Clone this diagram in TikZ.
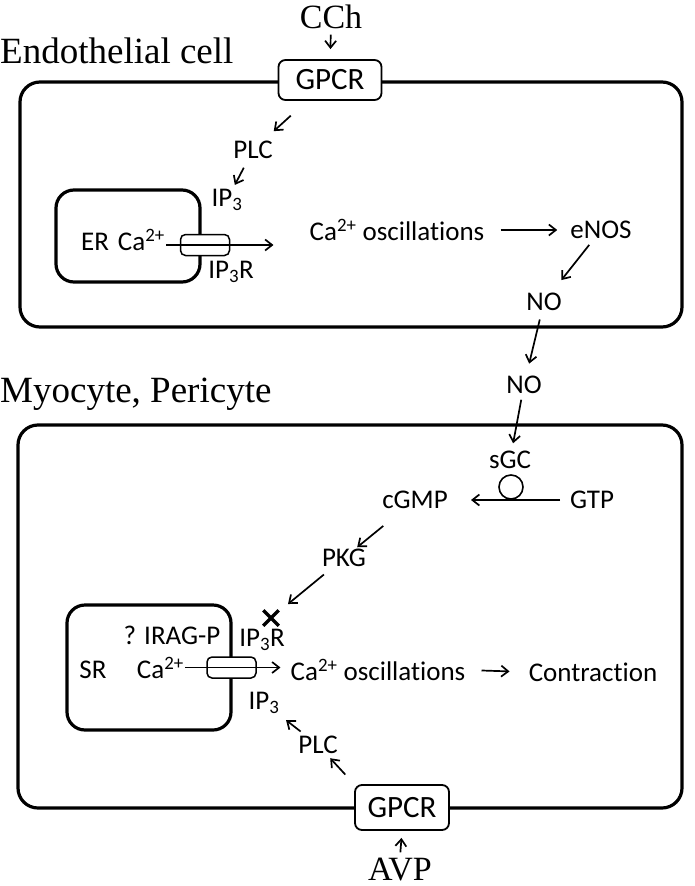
\documentclass[tikz,border=0pt]{standalone}
\usepackage{fontspec}
\setmainfont{Liberation Serif}
\setsansfont[Ligatures=NoCommon]{Carlito}
\usetikzlibrary{arrows.meta, positioning, calc, shapes.misc}

\tikzset{
  wall/.style={draw, line width=3.2pt, rounded corners=20pt, inner sep=0pt},
  organelle/.style={draw, line width=3.2pt, rounded corners=18pt, inner sep=0pt},
  receptor/.style={draw, fill=white, line width=1.8pt, rounded corners=7pt, font=\fontsize{31}{34}\selectfont\sffamily, inner sep=0pt},
  channel/.style={draw, fill=white, line width=1.5pt, rounded corners=5pt, minimum width=49pt, minimum height=21pt, inner sep=0pt},
  lbl/.style={font=\fontsize{27}{30}\selectfont\sffamily, inner sep=1pt},
  celltitle/.style={font=\fontsize{37}{42}\selectfont, inner sep=0pt},
  ligand/.style={font=\fontsize{34}{38}\selectfont, inner sep=0pt},
  arr/.style={-{Straight Barb[length=7pt,width=11pt]}, line width=1.7pt},
}

\begin{document}
\begin{tikzpicture}[x=1pt, y=-1pt]
  \useasboundingbox (0,0) rectangle (694,886);

  % endothelial cell
  \node[wall, minimum width=662pt, minimum height=245pt] (endo) at (351,204.5) {};
  \node[celltitle, anchor=base west] (endotitle) at (0,63) {Endothelial cell};
  \node[ligand, anchor=base] (cch) at (331,28) {CCh};
  \node[receptor, minimum width=103pt, minimum height=40pt] (gpcr1) at (330,80) {GPCR};
  \node[lbl] (plc1) at (253,150) {PLC};
  \node[lbl] (ip3a) at (227,200) {IP\textsubscript{3}};
  \node[organelle, minimum width=144pt, minimum height=92pt] (er) at (128,236) {};
  \node[lbl, anchor=east] (erca) at (166,240) {ER\,\,Ca\textsuperscript{2+}};
  \node[channel] (chan1) at (205,245) {};
  \node[lbl] (ip3r1) at (231,272) {IP\textsubscript{3}R};
  \node[lbl] (osc1) at (397,230) {Ca\textsuperscript{2+} oscillations};
  \node[lbl] (enos) at (601,230) {eNOS};
  \node[lbl] (no1) at (544,302) {NO};

  \draw[arr, shorten <=6pt, shorten >=10pt] (cch) -- (gpcr1);
  \draw[arr, shorten <=53pt, shorten >=28pt] (gpcr1.center) -- (plc1.center);
  \draw[arr, shorten <=20pt, shorten >=17pt] (plc1.center) -- (ip3a.center);
  \draw[arr, shorten >=35pt] (erca.east |- chan1.center) -- (osc1.west |- chan1.center);
  \draw[arr, shorten <=15pt, shorten >=12pt] (osc1.east) -- (enos.west);
  \draw[arr, shorten <=19pt, shorten >=28pt] (enos.center) -- (no1.center);

  % myocyte / pericyte
  \node[lbl] (no2) at (524,385) {NO};
  \node[celltitle, anchor=base west] (myotitle) at (0,402) {Myocyte, Pericyte};
  \node[wall, minimum width=664pt, minimum height=383pt] (myo) at (350,616.5) {};
  \node[lbl] (sgc) at (510,460) {sGC};
  \node[circle, draw, line width=1.6pt, minimum size=24pt, inner sep=0pt] (sgcring) at (511,487) {};
  \node[lbl] (gtp) at (592,500) {GTP};
  \node[lbl] (cgmp) at (415,500) {cGMP};
  \node[lbl] (pkg) at (344,558) {PKG};
  \node[cross out, draw, line width=3.5pt, minimum size=12pt, inner sep=0pt] (block) at (271,618) {};
  \node[organelle, minimum width=164pt, minimum height=125pt] (sr) at (149,667.5) {};
  \node[lbl] (irag) at (172,635) {? IRAG-P};
  \node[lbl] (ip3r2) at (262,640) {IP\textsubscript{3}R};
  \node[lbl] (srlbl) at (93,670) {SR};
  \node[lbl, anchor=east] (srca) at (185,668) {Ca\textsuperscript{2+}};
  \node[channel] (chan2) at (231.5,667.5) {};
  \node[lbl] (osc2) at (378,670) {Ca\textsuperscript{2+} oscillations};
  \node[lbl] (contr) at (593,672) {Contraction};
  \node[lbl] (ip3b) at (264,703) {IP\textsubscript{3}};
  \node[lbl] (plc2) at (318,745) {PLC};
  \node[receptor, minimum width=94pt, minimum height=45pt] (gpcr2) at (402,807.5) {GPCR};
  \node[ligand, anchor=base] (avp) at (400,880) {AVP};

  \draw[arr, shorten <=18pt, shorten >=22pt] (no1.center) -- (no2.center);
  \draw[arr, shorten <=15pt, shorten >=17pt] (no2.center) -- (sgc.center);
  \draw[arr, shorten <=32pt, shorten >=56pt] (gtp.center) -- (cgmp.center);
  \draw[arr, shorten <=41pt, shorten >=17pt] (cgmp.center) -- (pkg.center);
  \draw[arr, shorten <=26pt, shorten >=22pt] (pkg.center) -- (block.center);
  \draw[arr, shorten >=9pt] (srca.east |- chan2.center) -- (osc2.west |- chan2.center);
  \draw[arr, shorten <=15pt, shorten >=18pt] (osc2.east) -- (contr.west);
  \draw[arr, shorten <=13pt, shorten >=18pt] (gpcr2.north west) -- (plc2.center);
  \draw[arr, shorten <=22pt, shorten >=28pt] (plc2.center) -- (ip3b.center);
  \draw[arr, shorten <=5pt, shorten >=7pt] (avp.north) -- (gpcr2.south);
\end{tikzpicture}
\end{document}
